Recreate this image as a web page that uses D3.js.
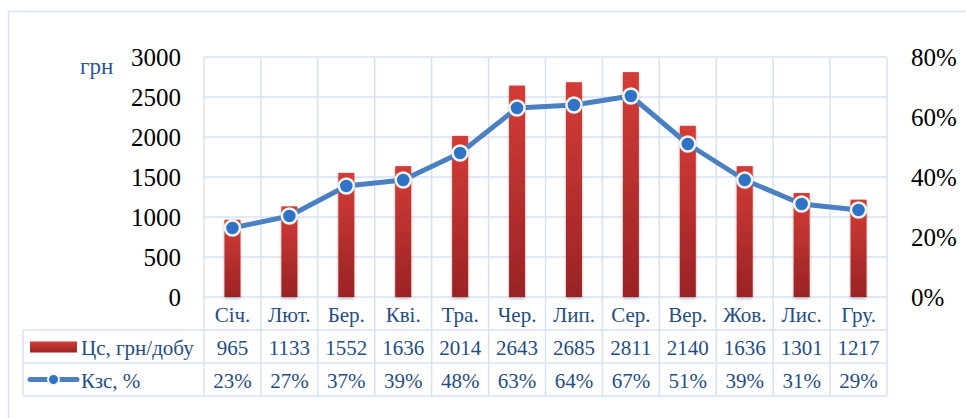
<!DOCTYPE html>
<html>
<head>
<meta charset="utf-8">
<script src="https://cdn.jsdelivr.net/npm/d3@7"></script>
<style>
  body { margin: 0; background: #fff; }
  svg { display: block; }
  svg text { font-family: "Liberation Serif", "Times New Roman", serif; }
</style>
</head>
<body>
<div id="chart"></div>
<script>
// Data
const months = ["Січ.", "Лют.", "Бер.", "Кві.", "Тра.", "Чер.", "Лип.", "Сер.", "Вер.", "Жов.", "Лис.", "Гру."];
const costs = [965, 1133, 1552, 1636, 2014, 2643, 2685, 2811, 2140, 1636, 1301, 1217];
const kzs = [0.23, 0.27, 0.37, 0.39, 0.48, 0.63, 0.64, 0.67, 0.51, 0.39, 0.31, 0.29];
const leftTicks = [0, 500, 1000, 1500, 2000, 2500, 3000];
const rightTicks = [0, 0.2, 0.4, 0.6, 0.8];
const costLabel = "Цс, грн/добу";
const kzsLabel = "Кзс, %";
const unitLabel = "грн";

function chart() {
    const width = 966;
    const height = 418;

    // plot area
    const left = 204, right = 887, top = 57, bottom = 297;
    const rowH = 33;
    const tableLeft = 23;

    const gridColor = "#d6e2f2";
    const textBlue = "#1f4e84";

    const x = d3.scaleBand().domain(months).range([left, right]);
    const y = d3.scaleLinear().domain([0, 3000]).range([bottom, top]);
    const y2 = d3.scaleLinear().domain([0, 0.8]).range([bottom, top]);

    const svg = d3.create("svg")
        .attr("width", width)
        .attr("height", height)
        .attr("viewBox", [0, 0, width, height]);

    const defs = svg.append("defs");
    const grad = defs.append("linearGradient")
        .attr("id", "barGrad")
        .attr("x1", 0).attr("y1", 0).attr("x2", 0).attr("y2", 1);
    grad.append("stop").attr("offset", "0%").attr("stop-color", "#d43c37");
    grad.append("stop").attr("offset", "100%").attr("stop-color", "#9a2325");

    const shadow = defs.append("filter").attr("id", "shadow")
        .attr("x", "-50%").attr("y", "-10%").attr("width", "200%").attr("height", "130%");
    shadow.append("feDropShadow")
        .attr("dx", 0).attr("dy", 1.5).attr("stdDeviation", 1.5)
        .attr("flood-color", "#000").attr("flood-opacity", 0.3);

    // outer frame
    svg.append("rect")
        .attr("x", 8.5).attr("y", 11.5)
        .attr("width", width).attr("height", height)
        .attr("fill", "none")
        .attr("stroke", gridColor)
        .attr("stroke-width", 1.5);

    // horizontal grid
    svg.append("g")
        .selectAll("line")
        .data(leftTicks)
        .join("line")
        .attr("x1", left).attr("x2", right)
        .attr("y1", d => y(d)).attr("y2", d => y(d))
        .attr("stroke", gridColor)
        .attr("stroke-width", 1.5);

    // vertical grid (category boundaries, running down through the table)
    const bounds = months.map(m => x(m)).concat([right]);
    svg.append("g")
        .selectAll("line")
        .data(bounds)
        .join("line")
        .attr("x1", d => d).attr("x2", d => d)
        .attr("y1", top).attr("y2", bottom + rowH * 3)
        .attr("stroke", gridColor)
        .attr("stroke-width", 1.5);

    // table rows
    const rowLines = [bottom + rowH, bottom + rowH * 2, bottom + rowH * 3];
    svg.append("g")
        .selectAll("line")
        .data(rowLines)
        .join("line")
        .attr("x1", tableLeft).attr("x2", right)
        .attr("y1", d => d).attr("y2", d => d)
        .attr("stroke", gridColor)
        .attr("stroke-width", 1.5);
    svg.append("line")
        .attr("x1", tableLeft).attr("x2", tableLeft)
        .attr("y1", bottom + rowH).attr("y2", bottom + rowH * 3)
        .attr("stroke", gridColor)
        .attr("stroke-width", 1.5);

    // bars
    const barW = 16;
    svg.append("g")
        .selectAll("rect")
        .data(costs)
        .join("rect")
        .attr("x", (d, i) => x(months[i]) + x.bandwidth() / 2 - barW / 2)
        .attr("y", d => y(d))
        .attr("width", barW)
        .attr("height", d => y(0) - y(d))
        .attr("fill", "url(#barGrad)")
        .attr("filter", "url(#shadow)");

    // line
    const line = d3.line()
        .x((d, i) => x(months[i]) + x.bandwidth() / 2)
        .y(d => y2(d));

    svg.append("path")
        .datum(kzs)
        .attr("fill", "none")
        .attr("stroke", "#4a80c2")
        .attr("stroke-width", 5)
        .attr("stroke-linejoin", "round")
        .attr("d", line);

    svg.append("g")
        .selectAll("circle")
        .data(kzs)
        .join("circle")
        .attr("cx", (d, i) => x(months[i]) + x.bandwidth() / 2)
        .attr("cy", d => y2(d))
        .attr("r", 7.5)
        .attr("fill", "#2f73c6")
        .attr("stroke", "#f4f4f0")
        .attr("stroke-width", 2.5);

    // left axis
    svg.append("g")
        .attr("font-size", 25)
        .attr("fill", "#000")
        .attr("text-anchor", "end")
        .selectAll("text")
        .data(leftTicks)
        .join("text")
        .attr("x", 181)
        .attr("y", d => y(d))
        .attr("dy", "0.35em")
        .text(d => d);

    svg.append("text")
        .attr("x", 80).attr("y", 72)
        .attr("dy", "0.1em")
        .attr("font-size", 23)
        .attr("fill", "#2f5597")
        .text(unitLabel);

    // right axis
    const pct = d3.format(".0%");
    svg.append("g")
        .attr("font-size", 25)
        .attr("fill", "#000")
        .attr("text-anchor", "start")
        .selectAll("text")
        .data(rightTicks)
        .join("text")
        .attr("x", 911)
        .attr("y", d => y2(d))
        .attr("dy", "0.35em")
        .text(d => pct(d));

    // data table text
    const cx = m => x(m) + x.bandwidth() / 2;
    const tbl = svg.append("g")
        .attr("font-size", 21)
        .attr("fill", textBlue)
        .attr("text-anchor", "middle");

    tbl.selectAll(".cat")
        .data(months)
        .join("text")
        .attr("class", "cat")
        .attr("x", d => cx(d))
        .attr("y", bottom + rowH / 2 + 1)
        .attr("dy", "0.35em")
        .text(d => d);

    tbl.selectAll(".cost")
        .data(costs)
        .join("text")
        .attr("class", "cost")
        .attr("x", (d, i) => cx(months[i]))
        .attr("y", bottom + rowH * 1.5 + 1)
        .attr("dy", "0.35em")
        .text(d => d);

    tbl.selectAll(".kzs")
        .data(kzs)
        .join("text")
        .attr("class", "kzs")
        .attr("x", (d, i) => cx(months[i]))
        .attr("y", bottom + rowH * 2.5 + 1)
        .attr("dy", "0.35em")
        .text(d => pct(d));

    // legend keys in the table
    svg.append("rect")
        .attr("x", 30).attr("y", bottom + rowH * 1.5 - 5)
        .attr("width", 47).attr("height", 11)
        .attr("fill", "url(#barGrad)");

    svg.append("line")
        .attr("x1", 30).attr("x2", 77)
        .attr("y1", bottom + rowH * 2.5).attr("y2", bottom + rowH * 2.5)
        .attr("stroke", "#4a80c2")
        .attr("stroke-width", 5)
        .attr("stroke-linecap", "round");
    svg.append("circle")
        .attr("cx", 53.5).attr("cy", bottom + rowH * 2.5)
        .attr("r", 5.5)
        .attr("fill", "#2f73c6")
        .attr("stroke", "#f4f4f0")
        .attr("stroke-width", 2);

    tbl.append("text")
        .attr("x", 81).attr("y", bottom + rowH * 1.5 + 1)
        .attr("dy", "0.35em")
        .attr("text-anchor", "start")
        .text(costLabel);
    tbl.append("text")
        .attr("x", 81).attr("y", bottom + rowH * 2.5 + 1)
        .attr("dy", "0.35em")
        .attr("text-anchor", "start")
        .text(kzsLabel);

    return svg.node();
}

document.getElementById("chart").appendChild(chart());
</script>
</body>
</html>
